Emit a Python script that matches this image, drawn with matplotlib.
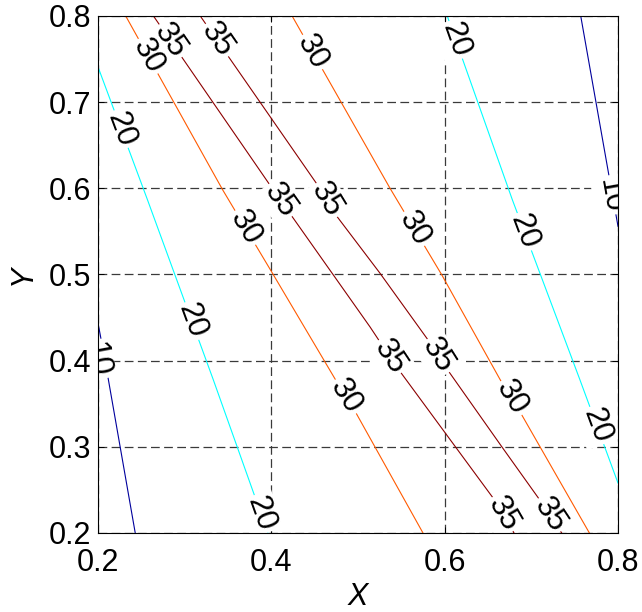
import numpy as np
import matplotlib
matplotlib.use("Agg")
from matplotlib import pyplot as plt

plt.rcParams['font.family'] = ['Liberation Sans', 'DejaVu Sans']

# contour lines (x, y in data units)
c10_left_x = [0.200, 0.208, 0.243]
c10_left_y = [0.444, 0.401, 0.200]
c10_right_x = [0.757, 0.789, 0.800]
c10_right_y = [0.800, 0.618, 0.556]
c20_left_x = [0.200, 0.257, 0.333, 0.396]
c20_left_y = [0.741, 0.587, 0.378, 0.200]
c20_right_x = [0.603, 0.678, 0.756, 0.800]
c20_right_y = [0.800, 0.587, 0.378, 0.258]
c30_left_x = [0.232, 0.344, 0.401, 0.474, 0.494, 0.575]
c30_left_y = [0.800, 0.598, 0.502, 0.378, 0.346, 0.200]
c30_right_x = [0.424, 0.537, 0.597, 0.664, 0.689, 0.767]
c30_right_y = [0.800, 0.600, 0.499, 0.378, 0.337, 0.200]
c35_left_x = [0.264, 0.401, 0.514, 0.543, 0.600, 0.660, 0.680]
c35_left_y = [0.800, 0.600, 0.439, 0.395, 0.317, 0.235, 0.200]
c35_right_x = [0.318, 0.456, 0.476, 0.525, 0.583, 0.598, 0.666, 0.710, 0.735]
c35_right_y = [0.800, 0.600, 0.567, 0.502, 0.421, 0.397, 0.300, 0.238, 0.200]

lines = [(10, c10_left_x, c10_left_y), (10, c10_right_x, c10_right_y),
         (20, c20_left_x, c20_left_y), (20, c20_right_x, c20_right_y),
         (30, c30_left_x, c30_left_y), (30, c30_right_x, c30_right_y),
         (35, c35_left_x, c35_left_y), (35, c35_right_x, c35_right_y)]

level_colors = {10: '#00009C', 20: '#00FFFF', 30: '#FF5A00', 35: '#8C0000'}

# clabel positions
label_x = [0.198, 0.791, 0.222, 0.303, 0.382, 0.606, 0.685, 0.768,
           0.250, 0.366, 0.479, 0.442, 0.558, 0.671,
           0.279, 0.403, 0.531, 0.662, 0.333, 0.460, 0.585, 0.718]
label_y = [0.401, 0.592, 0.667, 0.444, 0.220, 0.770, 0.547, 0.322,
           0.749, 0.552, 0.354, 0.755, 0.549, 0.353,
           0.768, 0.581, 0.401, 0.219, 0.769, 0.584, 0.401, 0.219]
label_level = [10, 10, 20, 20, 20, 20, 20, 20,
               30, 30, 30, 30, 30, 30,
               35, 35, 35, 35, 35, 35, 35, 35]

xticks = [0.2, 0.4, 0.6, 0.8]
yticks = [0.2, 0.3, 0.4, 0.5, 0.6, 0.7, 0.8]

fig = plt.figure(figsize=(6.42, 6.12), dpi=100)
ax = fig.add_axes([0.1526, 0.1291, 0.8100, 0.8448])
ax.set_xlim(0.2, 0.8)
ax.set_ylim(0.2, 0.8)

for lev, xs, ys in lines:
    ax.plot(xs, ys, color=level_colors[lev], lw=0.8, zorder=2)


def nearest_on_line(px, py, lev):
    # project label onto closest segment of a line with the same level
    best = None
    for l, xs, ys in lines:
        if l != lev:
            continue
        for i in range(len(xs) - 1):
            p0 = np.array([xs[i], ys[i]])
            p1 = np.array([xs[i + 1], ys[i + 1]])
            d = p1 - p0
            t = np.clip(np.dot([px, py] - p0, d) / np.dot(d, d), 0, 1)
            q = p0 + t * d
            dist = np.hypot(*(q - [px, py]))
            if best is None or dist < best[0]:
                best = (dist, q, p0, p1)
    return best[1], best[2], best[3]


for lx, ly, lev in zip(label_x, label_y, label_level):
    q, p0, p1 = nearest_on_line(lx, ly, lev)
    a = ax.transData.transform(p0)
    b = ax.transData.transform(p1)
    if b[1] > a[1]:
        a, b = b, a
    ang = np.degrees(np.arctan2(b[1] - a[1], b[0] - a[0]))
    if lev == 10:
        # labels near the frame: keep the position as read
        q = np.array([lx, ly])
    kw = dict(rotation=ang, rotation_mode='anchor', ha='center', va='center',
              fontsize=22.5, clip_on=True)
    # white gap in the line first, then the digits on top
    ax.text(q[0], q[1], str(lev), color='none', zorder=2.5,
            bbox=dict(boxstyle='square,pad=0.08', fc='white', ec='none'), **kw)
    ax.text(q[0], q[1], str(lev), color='black', zorder=3, **kw)

ax.set_xticks(xticks)
ax.set_yticks(yticks)
ax.set_xticklabels([f'{v:.1f}' for v in xticks])
ax.set_yticklabels([f'{v:.1f}' for v in yticks])
ax.tick_params(direction='in', length=4, width=0.7, top=True, right=True,
               labelsize=22)
ax.tick_params(axis='x', pad=11)
ax.tick_params(axis='y', pad=5)
ax.set_axisbelow(True)
ax.grid(True, color='#3a3a3a', lw=0.9, linestyle=(0, (7, 3.5)))
for sp in ax.spines.values():
    sp.set_linewidth(0.8)

ax.set_xlabel('X', fontsize=22, style='italic', labelpad=3)
ax.set_ylabel('Y', fontsize=22, style='italic', labelpad=8)

fig.savefig('out.png', dpi=100)
